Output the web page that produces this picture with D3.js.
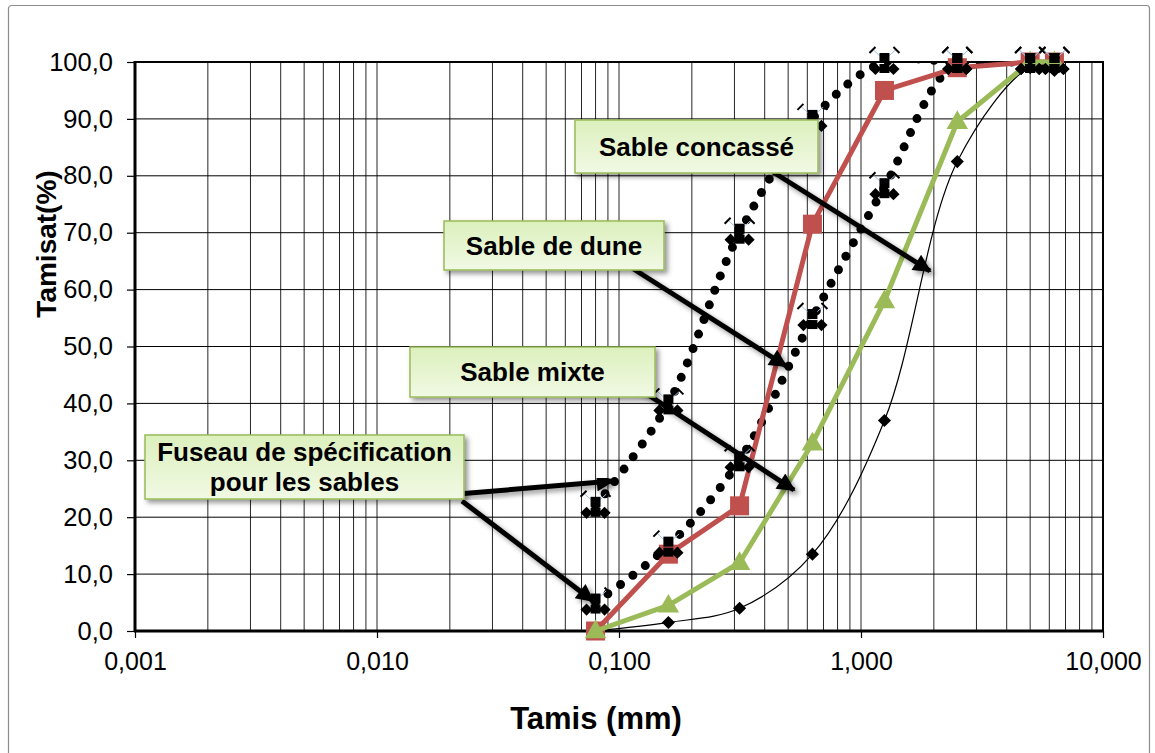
<!DOCTYPE html>
<html>
<head>
<meta charset="utf-8">
<script src="https://cdn.jsdelivr.net/npm/d3@7"></script>
<style>
  html, body { margin: 0; padding: 0; background: #fff; }
  svg { display: block; }
</style>
</head>
<body>
<svg id="chart" width="1155" height="753"></svg>
<script>
// Ouvertures des tamis (mm)
const sieves = [0.08, 0.16, 0.315, 0.63, 1.25, 2.5, 5, 6.3];
// Tamisats cumulés (%)
const sableDune     = [0, 13.5, 22, 71.5, 95, 99, 100, 100];
const sableMixte    = [0, 4.5, 12, 33, 58, 89.5, 100, 100];
const sableConcasse = [0, 1.5, 4, 13.5, 37, 82.5, 99, 98.5];
// Fuseau de spécification
const fuseauSup = [22, 40, 70, 90, 100, 100, 100, 100];
const fuseauInf = [5, 15, 30, 55, 78, 100, 100, 100];
// Axes
const xTicks = [0.001, 0.01, 0.1, 1, 10];
const xTickLabels = ["0,001", "0,010", "0,100", "1,000", "10,000"];
const yTicks = [0, 10, 20, 30, 40, 50, 60, 70, 80, 90, 100];
const yTickLabels = ["0,0", "10,0", "20,0", "30,0", "40,0", "50,0", "60,0", "70,0", "80,0", "90,0", "100,0"];
// Étiquettes et flèches
const annotations = [
  { lines: ["Sable concassé"], box: [575, 120, 243, 53], from: [773, 172], to: [930, 271] },
  { lines: ["Sable de dune"], box: [444, 221, 220, 49], from: [632, 268], to: [786, 366] },
  { lines: ["Sable mixte"], box: [410, 347, 245, 50], from: [630, 383], to: [794, 490] },
  { lines: ["Fuseau de spécification", "pour les sables"], box: [145, 435, 319, 64], from: [458, 494], to: [613, 481] },
  { lines: [], box: null, from: [462, 501], to: [593, 601] }
];

const svg = d3.select("#chart");
const font = "'Liberation Sans', Arial, sans-serif";
const plotL = 135, plotR = 1103, plotT = 62, plotB = 631;

const x = d3.scaleLog().domain([0.001, 10]).range([plotL, plotR]);
const y = d3.scaleLinear().domain([0, 100]).range([plotB, plotT]);

const defs = svg.append("defs");
const shadow = defs.append("filter").attr("id", "shadow")
  .attr("x", "-20%").attr("y", "-20%").attr("width", "150%").attr("height", "160%");
shadow.append("feDropShadow").attr("dx", 3).attr("dy", 3).attr("stdDeviation", 2.6)
  .attr("flood-color", "#000").attr("flood-opacity", 0.42);

const grad = defs.append("linearGradient").attr("id", "boxFill")
  .attr("x1", 0).attr("y1", 0).attr("x2", 0).attr("y2", 1);
grad.append("stop").attr("offset", "0%").attr("stop-color", "#dcf0bd");
grad.append("stop").attr("offset", "100%").attr("stop-color", "#f1f9e4");

defs.append("clipPath").attr("id", "plotClip")
  .append("rect").attr("x", plotL).attr("y", plotT - 1).attr("width", plotR - plotL).attr("height", plotB - plotT + 2);

defs.append("marker").attr("id", "arrowHead")
  .attr("viewBox", "0 0 10 10").attr("refX", 9).attr("refY", 5)
  .attr("markerWidth", 4.2).attr("markerHeight", 3.6).attr("orient", "auto")
  .attr("markerUnits", "strokeWidth")
  .append("path").attr("d", "M0,0 L10,5 L0,10 Z").attr("fill", "#000");

// Cadre extérieur
svg.append("rect").attr("x", 8.5).attr("y", 5.5).attr("width", 1141).attr("height", 770)
  .attr("fill", "none").attr("stroke", "#8c8c8c").attr("stroke-width", 1.2).attr("rx", 3);

// Quadrillage
const gridX = [];
for (let k = -3; k < 1; k++) for (let d = 1; d <= 9; d++) gridX.push(d * Math.pow(10, k));
gridX.push(10);
const grid = svg.append("g");
grid.selectAll("line.v").data(gridX).join("line")
  .attr("x1", d => x(d)).attr("x2", d => x(d)).attr("y1", plotT).attr("y2", plotB)
  .attr("stroke", "#262626").attr("stroke-width", 1);
grid.selectAll("line.h").data(yTicks).join("line")
  .attr("x1", plotL).attr("x2", plotR).attr("y1", d => y(d)).attr("y2", d => y(d))
  .attr("stroke", "#000").attr("stroke-width", 1);

// Axes
const yAxis = d3.axisLeft(y).tickValues(yTicks).tickSize(8).tickFormat((d, i) => yTickLabels[i]).tickPadding(14);
const gy = svg.append("g").attr("transform", `translate(${plotL},0)`).call(yAxis);
gy.select(".domain").remove();
gy.selectAll("line").attr("stroke", "#000").attr("stroke-width", 1.2);
gy.selectAll("text").attr("font-family", font).attr("font-size", 25.5).attr("fill", "#000");

const xAxis = d3.axisBottom(x).tickValues(xTicks).tickSize(7).tickFormat((d, i) => xTickLabels[i]).tickPadding(14);
const gx = svg.append("g").attr("transform", `translate(0,${plotB})`).call(xAxis);
gx.select(".domain").remove();
gx.selectAll("line").attr("stroke", "#000").attr("stroke-width", 1.2);
gx.selectAll("text").attr("font-family", font).attr("font-size", 25).attr("fill", "#000");

// Bordure de la zone de tracé
svg.append("rect").attr("x", plotL).attr("y", plotT).attr("width", plotR - plotL).attr("height", plotB - plotT)
  .attr("fill", "none").attr("stroke", "#000").attr("stroke-width", 2);
svg.append("line").attr("x1", plotL - 1).attr("x2", plotR + 1).attr("y1", plotB).attr("y2", plotB)
  .attr("stroke", "#000").attr("stroke-width", 3);
svg.append("line").attr("x1", plotL).attr("x2", plotL).attr("y1", plotT - 1).attr("y2", plotB + 1)
  .attr("stroke", "#000").attr("stroke-width", 3);

// Titres des axes
svg.append("text").attr("x", 596).attr("y", 729).attr("text-anchor", "middle")
  .attr("font-family", font).attr("font-size", 31).attr("font-weight", "bold").text("Tamis (mm)");
svg.append("text").attr("transform", "translate(56,244) rotate(-90)").attr("text-anchor", "middle")
  .attr("font-family", font).attr("font-size", 28).attr("font-weight", "bold").text("Tamisat(%)");

const pts = vals => sieves.map((s, i) => [s, vals[i]]);
const smooth = d3.line().x(d => x(d[0])).y(d => y(d[1])).curve(d3.curveCatmullRom.alpha(0.5));
const straight = d3.line().x(d => x(d[0])).y(d => y(d[1]));

// Sable concassé : courbe lissée fine
svg.append("path").attr("d", smooth(pts(sableConcasse)))
  .attr("fill", "none").attr("stroke", "#000").attr("stroke-width", 1.2);

// Fuseau : courbes pointillées
const fus = svg.append("g").attr("clip-path", "url(#plotClip)");
[fuseauSup, fuseauInf].forEach(vals => {
  fus.append("path").attr("d", smooth(pts(vals)))
    .attr("fill", "none").attr("stroke", "#000").attr("stroke-width", 9)
    .attr("stroke-linecap", "round").attr("stroke-dasharray", "0 15.5");
});

// Sable de dune
svg.append("path").attr("d", straight(pts(sableDune)))
  .attr("fill", "none").attr("stroke", "#c0504d").attr("stroke-width", 5).attr("stroke-linejoin", "round");
svg.append("g").selectAll("rect").data(pts(sableDune)).join("rect")
  .attr("x", d => x(d[0]) - 9.5).attr("y", d => y(d[1]) - 9.5).attr("width", 19).attr("height", 19)
  .attr("fill", "#c0504d");

// Sable mixte
svg.append("path").attr("d", straight(pts(sableMixte)))
  .attr("fill", "none").attr("stroke", "#9bbb59").attr("stroke-width", 5).attr("stroke-linejoin", "round");
const tri = d3.symbol().type(d3.symbolTriangle).size(200);
svg.append("g").selectAll("path").data(pts(sableMixte)).join("path")
  .attr("transform", d => `translate(${x(d[0])},${y(d[1]) + 1})`).attr("d", tri)
  .attr("fill", "#9bbb59");

// Sable concassé : losanges
const diamond = d3.symbol().type(d3.symbolDiamond2).size(110);
svg.append("g").selectAll("path").data(pts(sableConcasse).slice(1)).join("path")
  .attr("transform", d => `translate(${x(d[0])},${y(d[1])})`).attr("d", diamond)
  .attr("fill", "#000");

// Fuseau : repères des points
const smallDiamond = d3.symbol().type(d3.symbolDiamond2).size(95);
const clusters = svg.append("g");
[fuseauSup, fuseauInf].forEach(vals => {
  pts(vals).forEach(([s, v]) => {
    const cx = x(s), cy = y(v);
    const g = clusters.append("g").attr("transform", `translate(${cx},${cy})`);
    g.append("path").attr("d", "M-11,-12 L0,-2 L11,-12").attr("fill", "none")
      .attr("stroke", "#9fc3e6").attr("stroke-width", 1);
    g.append("line").attr("x1", -15).attr("y1", -9).attr("x2", -9).attr("y2", -15)
      .attr("stroke", "#000").attr("stroke-width", 2);
    g.append("line").attr("x1", 9).attr("y1", -15).attr("x2", 15).attr("y2", -9)
      .attr("stroke", "#000").attr("stroke-width", 2);
    g.append("path").attr("d", smallDiamond).attr("transform", "translate(-9,7)").attr("fill", "#000");
    g.append("path").attr("d", smallDiamond).attr("transform", "translate(9,7)").attr("fill", "#000");
    g.append("rect").attr("x", -5).attr("y", 2).attr("width", 10).attr("height", 9).attr("fill", "#000");
    g.append("rect").attr("x", -5).attr("y", -9).attr("width", 10).attr("height", 10).attr("fill", "#000");
  });
});

// Étiquettes et flèches
const ann = svg.append("g");
annotations.forEach(a => {
  ann.append("line").attr("x1", a.from[0]).attr("y1", a.from[1]).attr("x2", a.to[0]).attr("y2", a.to[1])
    .attr("stroke", "#000").attr("stroke-width", 5).attr("marker-end", "url(#arrowHead)")
    .attr("filter", "url(#shadow)");
});
annotations.filter(a => a.box).forEach(a => {
  const [bx, by, bw, bh] = a.box;
  ann.append("rect").attr("x", bx).attr("y", by).attr("width", bw).attr("height", bh)
    .attr("fill", "url(#boxFill)").attr("stroke", "#9bbb59").attr("stroke-width", 1.5)
    .attr("filter", "url(#shadow)");
  const n = a.lines.length;
  a.lines.forEach((t, i) => {
    ann.append("text").attr("x", bx + bw / 2)
      .attr("y", by + bh / 2 + 9 + (i - (n - 1) / 2) * 30)
      .attr("text-anchor", "middle").attr("font-family", font).attr("font-size", 26)
      .attr("font-weight", "bold").attr("fill", "#000").text(t);
  });
});
</script>
</body>
</html>
